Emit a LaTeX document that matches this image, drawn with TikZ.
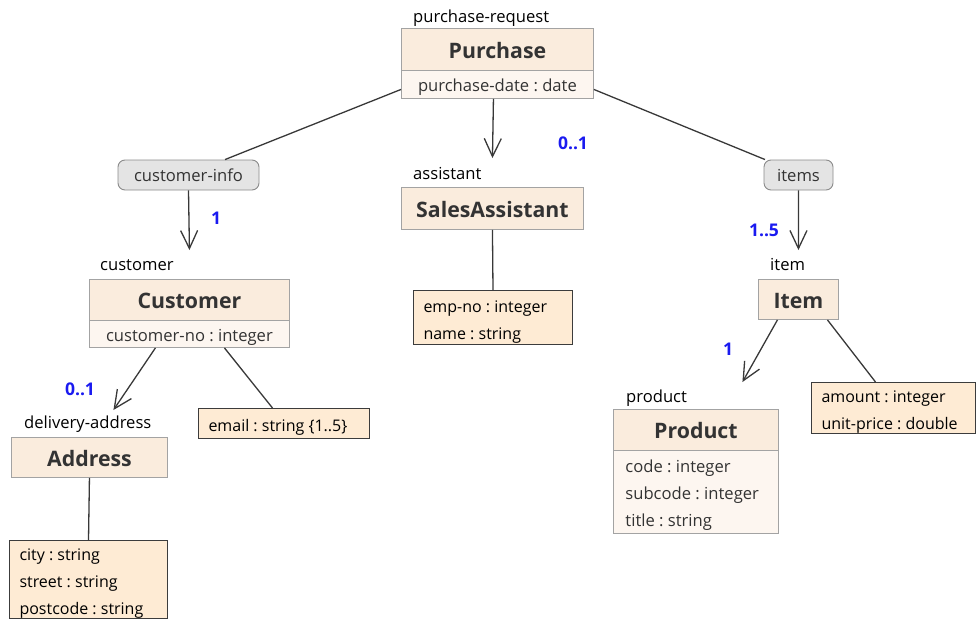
\documentclass[tikz,border=0pt]{standalone}
\usepackage{fontspec}
\setmainfont{Open Sans}
\usetikzlibrary{arrows.meta}
\definecolor{clsfill}{HTML}{FAECDD}
\definecolor{attfill}{HTML}{FDF6F0}
\definecolor{featfill}{HTML}{FEEBD4}
\definecolor{clsline}{HTML}{A3A3A3}
\definecolor{featline}{HTML}{3C3C3C}
\definecolor{pillfill}{HTML}{E4E4E4}
\definecolor{pillline}{HTML}{8A8A8A}
\definecolor{boxtext}{HTML}{333333}
\definecolor{multblue}{HTML}{1A1AF0}
\newcommand{\ftxt}{\fontsize{16.6bp}{27bp}\selectfont}
\newcommand{\ffeat}{\fontsize{16bp}{27bp}\selectfont}
\newcommand{\fcls}{\fontsize{21.3bp}{24bp}\selectfont\bfseries}
\newcommand{\topstrut}[1]{\rule{0pt}{#1}}
\frenchspacing

\begin{document}
\begin{tikzpicture}[>={Straight Barb[length=18bp,width=17bp]}]
      \tikzstyle{every node}=[font=\ftxt, inner sep=0pt]
      \tikzstyle{cls}=[draw=clsline, fill=clsfill, text=boxtext, font=\fcls, anchor=north west, line width=0.9bp, execute at begin node={\topstrut{18bp}}]
      \tikzstyle{att}=[draw=clsline, fill=attfill, text=boxtext, anchor=north west, line width=0.9bp, execute at begin node={\topstrut{19bp}}]
      \tikzstyle{feat}=[draw=featline, fill=featfill, text=black, font=\ffeat, anchor=north west, align=flush left, inner xsep=10bp, line width=1bp, execute at begin node={\topstrut{20bp}}]
      \tikzstyle{pill}=[draw=pillline, fill=pillfill, text=boxtext, rounded corners=7bp, line width=0.9bp]
      \tikzstyle{role}=[anchor=base west, text=black]
      \tikzstyle{mult}=[text=multblue, font=\fontsize{17.5bp}{20bp}\selectfont\bfseries]
      \tikzstyle{conn}=[draw=black!78, line width=1.3bp]
      %%
  \useasboundingbox (0bp,0bp) rectangle (976bp,-621bp);
  \node (pu_r) at (413bp,-22bp) [role] {purchase-request};
  \node (pu_t) at (401bp,-28bp) [cls, minimum width=192bp, minimum height=42bp] {Purchase};
  \node (pu_a) at (401bp,-70bp) [att, minimum width=192bp, minimum height=28bp] {purchase-date : date};
  \node (ci) at (188.5bp,-175bp) [pill, minimum width=141bp, minimum height=30bp] {customer-info};
  \node (m_ci) at (216bp,-218bp) [mult] {1};
  \node (cu_r) at (100bp,-270bp) [role] {customer};
  \node (cu_t) at (89bp,-279bp) [cls, minimum width=200bp, minimum height=41bp] {Customer};
  \node (cu_a) at (89bp,-320bp) [att, minimum width=200bp, minimum height=27bp] {customer-no : integer};
  \node (m_ad) at (80bp,-389bp) [mult] {0..1};
  \node (ad_r) at (24bp,-428bp) [role] {delivery-address};
  \node (ad_t) at (11bp,-437bp) [cls, minimum width=156bp, minimum height=40bp] {Address};
  \node (ad_f) at (9bp,-540bp) [feat, text width=138bp, minimum height=78bp] {city : string\\street : string\\postcode : string};
  \node (em) at (198bp,-408bp) [feat, text width=151bp, minimum height=30bp] {email : string \{1..5\}};
  \node (m_sa) at (573bp,-143bp) [mult] {0..1};
  \node (sa_r) at (413bp,-179bp) [role] {assistant};
  \node (sa_t) at (401bp,-187bp) [cls, minimum width=182bp, minimum height=42bp] {SalesAssistant};
  \node (sa_f) at (413bp,-290bp) [feat, text width=139bp, minimum height=54bp] {emp-no : integer\\name : string};
  \node (it) at (798.5bp,-175bp) [pill, minimum width=69bp, minimum height=30bp] {items};
  \node (m_it) at (764bp,-230bp) [mult] {1..5};
  \node (item_r) at (770bp,-270bp) [role] {item};
  \node (item_t) at (758bp,-279bp) [cls, minimum width=80bp, minimum height=40bp] {Item};
  \node (m_pr) at (728bp,-349bp) [mult] {1};
  \node (am) at (811bp,-382bp) [feat, text width=144bp, minimum height=51bp] {amount : integer\\unit-price : double};
  \node (pr_r) at (626bp,-402bp) [role] {product};
  \node (pr_t) at (613bp,-409bp) [cls, minimum width=165bp, minimum height=41bp] {Product};
  \node (pr_a) at (613bp,-450bp) [att, text width=141bp, inner xsep=12bp, align=flush left, minimum height=83bp] {code : integer\\subcode : integer\\title : string};
  %%
  \draw [conn] ([yshift=-5bp]pu_a.west) -- ([xshift=36.5bp]ci.north);
  \draw [conn] ([yshift=-5bp]pu_a.east) -- ([xshift=-33.5bp]it.north);
  \draw [conn,->] ([xshift=-4bp]pu_a.south) -- ([yshift=29bp]sa_t.north);
  \draw [conn,->] (ci.south) -- ([yshift=29bp]cu_t.north);
  \draw [conn,->] ([xshift=-34bp]cu_a.south) -- ([shift={(24bp,27bp)}]ad_t.north);
  \draw [conn] ([xshift=35bp]cu_a.south) -- ([xshift=-11.5bp]em.north);
  \draw [conn] (ad_t.south) -- (ad_f.north);
  \draw [conn] (sa_t.south) -- (sa_f.north);
  \draw [conn,->] (it.south) -- ([yshift=29bp]item_t.north);
  \draw [conn,->] ([xshift=-21bp]item_t.south) -- ([shift={(46.5bp,27bp)}]pr_t.north);
  \draw [conn] ([xshift=29bp]item_t.south) -- ([xshift=-18bp]am.north);
%

    \end{tikzpicture}
\end{document}
